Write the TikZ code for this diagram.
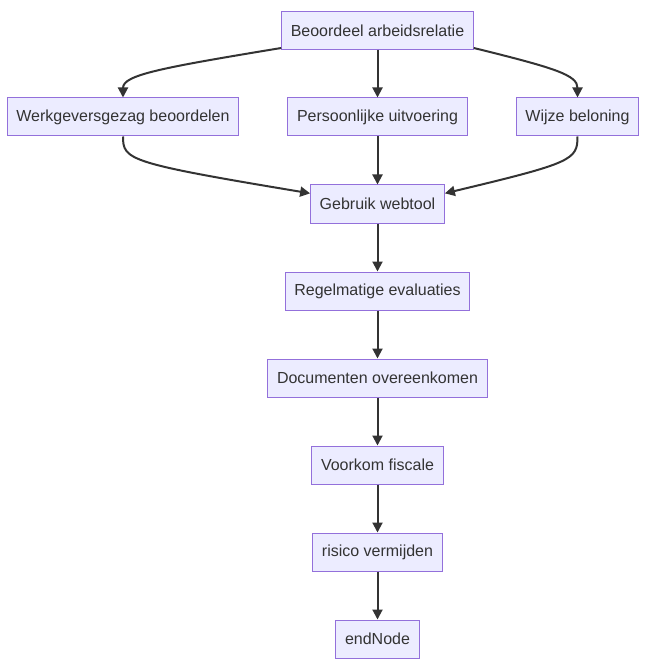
\documentclass[tikz,border=0pt]{standalone}
\usepackage{fontspec}
\setmainfont{Liberation Sans}
\usetikzlibrary{arrows.meta}
\definecolor{boxfill}{HTML}{ECECFF}
\definecolor{boxline}{HTML}{9370DB}
\definecolor{ink}{HTML}{333333}
\tikzset{
  stepbox/.style={draw=boxline, fill=boxfill, text=ink, line width=0.75pt,
    minimum height=28.5pt, inner xsep=6.8pt, font=\fontsize{12pt}{14pt}\selectfont},
  arr/.style={draw=ink, line width=1.5pt, -{Triangle[length=7.5pt,width=7.5pt]}}
}
\begin{document}
\begin{tikzpicture}[x=0.75pt,y=-0.75pt]
        \useasboundingbox (0,0) rectangle (655,670);

        \node[stepbox] (beoordeel) at (377.5,30.5) {Beoordeel arbeidsrelatie};
        \node[stepbox] (gezag) at (123,117) {Werkgeversgezag beoordelen};
        \node[stepbox] (uitvoering) at (377.5,117) {Persoonlijke uitvoering};
        \node[stepbox] (beloning) at (577.5,117) {Wijze beloning};
        \node[stepbox] (webtool) at (377.5,204) {Gebruik webtool};
        \node[stepbox] (evaluaties) at (377.5,291) {Regelmatige evaluaties};
        \node[stepbox] (documenten) at (377.5,378) {Documenten overeenkomen};
        \node[stepbox] (fiscale) at (377.5,465) {Voorkom fiscale};
        \node[stepbox] (risico) at (377.5,552) {risico vermijden};
        \node[stepbox] (eind) at (377.5,639) {endNode};

        \draw[arr] ([yshift=1.5pt]beoordeel.south west) .. controls (160,68) and (123,75) .. (gezag.north);
        \draw[arr] (beoordeel) -- (uitvoering);
        \draw[arr] ([yshift=1.5pt]beoordeel.south east) .. controls (555,68) and (577.5,75) .. (beloning.north);

        \draw[arr] (gezag.south) .. controls (123,160) and (128,163) .. ([yshift=8pt]webtool.west);
        \draw[arr] (uitvoering) -- (webtool);
        \draw[arr] (beloning.south) .. controls (577.5,160) and (572,163) .. ([yshift=8pt]webtool.east);

        \draw[arr] (webtool) -- (evaluaties);
        \draw[arr] (evaluaties) -- (documenten);
        \draw[arr] (documenten) -- (fiscale);
        \draw[arr] (fiscale) -- (risico);
        \draw[arr] (risico) -- (eind);
\end{tikzpicture}
\end{document}
